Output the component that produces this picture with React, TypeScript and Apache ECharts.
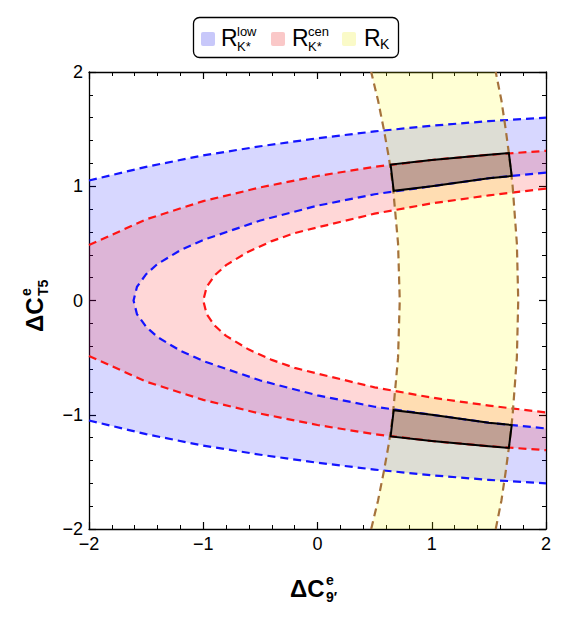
import React, { useEffect, useRef } from 'react';
import * as echarts from 'echarts';

// ---- Data ----
const seriesNames = ['R_K*^low', 'R_K*^cen', 'R_K'];
const xTicks = [-2, -1, 0, 1, 2];
const yTicks = [-2, -1, 0, 1, 2];

// R_K*^low (blue) band, upper half boundaries (lower half is the mirror image)
const blueOuterX = [-2, -1.5, -1, -0.5, 0, 0.5, 1, 1.5, 2];
const blueOuterY = [1.05, 1.17, 1.27, 1.35, 1.42, 1.48, 1.53, 1.57, 1.6];
const blueInnerX = [-1.61, -1.58, -1.5, -1.4, -1.2, -1, -0.5, 0, 0.5, 1, 1.5, 2];
const blueInnerY = [0, 0.12, 0.23, 0.32, 0.44, 0.53, 0.7, 0.83, 0.93, 1.0, 1.07, 1.12];

// R_K*^cen (red) band
const redOuterX = [-2, -1.5, -1, -0.5, 0, 0.5, 1, 1.5, 2];
const redOuterY = [0.485, 0.71, 0.87, 0.99, 1.09, 1.17, 1.23, 1.275, 1.31];
const redInnerX = [-1, -0.97, -0.9, -0.8, -0.6, -0.4, -0.2, 0, 0.5, 1, 1.5, 2];
const redInnerY = [0, 0.12, 0.22, 0.31, 0.43, 0.52, 0.59, 0.64, 0.76, 0.85, 0.92, 0.98];

// R_K (yellow) band: x of boundaries as a function of y
const yellowY = [-2, -1.75, -1.5, -1.25, -1, -0.5, 0, 0.5, 1, 1.25, 1.5, 1.75, 2];
const yellowLeftX = [0.47, 0.53, 0.58, 0.625, 0.66, 0.705, 0.72, 0.705, 0.66, 0.625, 0.58, 0.53, 0.47];
const yellowRightX = [1.56, 1.61, 1.647, 1.68, 1.708, 1.745, 1.757, 1.745, 1.708, 1.68, 1.647, 1.61, 1.56];

// Overlap regions (outlined in black)
const upperBox: number[][] = [
  [0.667, 0.96], [0.64, 1.19], [1.0, 1.23], [1.5, 1.275], [1.675, 1.29],
  [1.7, 1.09], [1.5, 1.07], [1.0, 1.0],
];
const lowerBox: number[][] = [
  [0.667, -0.96], [0.64, -1.19], [1.0, -1.23], [1.5, -1.275], [1.675, -1.29],
  [1.7, -1.09], [1.5, -1.07], [1.0, -1.0],
];

const FONT = '"Liberation Sans", Arial, Helvetica, sans-serif';

const zip = (xs: number[], ys: number[]) => xs.map((x, i) => [x, ys[i]]);
const neg = (pts: number[][]) => pts.map(([x, y]) => [x, -y]);

function bandPolygon(outerX: number[], outerY: number[], innerX: number[], innerY: number[]) {
  const outerUp = zip(outerX, outerY);
  const innerUp = zip(innerX, innerY);
  const innerLow = neg(innerUp);
  const outerLow = neg(outerUp);
  return [
    ...outerUp,
    ...innerUp.slice().reverse(),
    ...innerLow.slice(1),
    ...outerLow.slice().reverse(),
  ];
}

function bandLines(outerX: number[], outerY: number[], innerX: number[], innerY: number[]) {
  const outerUp = zip(outerX, outerY);
  const innerUp = zip(innerX, innerY);
  return [
    outerUp,
    neg(outerUp),
    [...innerUp.slice().reverse(), ...neg(innerUp).slice(1)],
  ];
}

const bluePoly = bandPolygon(blueOuterX, blueOuterY, blueInnerX, blueInnerY);
const redPoly = bandPolygon(redOuterX, redOuterY, redInnerX, redInnerY);
const yellowLeft = zip(yellowLeftX, yellowY);
const yellowRight = zip(yellowRightX, yellowY);
const yellowPoly = [...yellowLeft, ...yellowRight.slice().reverse()];

const BLUE_FILL = 'rgba(0,0,255,0.157)';
const RED_FILL = 'rgba(255,0,0,0.157)';
const YEL_FILL = 'rgba(255,255,0,0.17)';
const DASH = [8, 5];

function fillSeries(name: string, poly: number[][], fill: string, legendColor: string) {
  return {
    type: 'custom',
    name,
    coordinateSystem: 'cartesian2d',
    xAxisIndex: 0,
    yAxisIndex: 0,
    silent: true,
    z: 2,
    itemStyle: { color: legendColor },
    data: [[0, 0]],
    renderItem: (_p: any, api: any) => ({
      type: 'polygon',
      shape: { points: poly.map((p) => api.coord(p)) },
      style: { fill, stroke: 'none' },
    }),
  };
}

function lineSeries(name: string, lines: number[][][], stroke: string) {
  return {
    type: 'custom',
    name,
    coordinateSystem: 'cartesian2d',
    xAxisIndex: 0,
    yAxisIndex: 0,
    silent: true,
    z: 3,
    data: [[0, 0]],
    renderItem: (_p: any, api: any) => ({
      type: 'group',
      children: lines.map((l) => ({
        type: 'polyline',
        shape: { points: l.map((p) => api.coord(p)) },
        style: { stroke, lineWidth: 2.2, lineDash: DASH, fill: null },
      })),
    }),
  };
}

function boxSeries(name: string, boxes: number[][][]) {
  return {
    type: 'custom',
    name,
    coordinateSystem: 'cartesian2d',
    xAxisIndex: 0,
    yAxisIndex: 0,
    silent: true,
    z: 4,
    data: [[0, 0]],
    renderItem: (_p: any, api: any) => ({
      type: 'group',
      children: boxes.map((b) => ({
        type: 'polygon',
        shape: { points: b.map((p) => api.coord(p)) },
        style: { fill: 'rgba(40,10,10,0.18)', stroke: '#000', lineWidth: 2, lineJoin: 'miter' },
      })),
    }),
  };
}

const fmt = (v: number) => String(v).replace('-', '\u2212');

function axisCommon(showLabel: boolean) {
  return {
    min: -2,
    max: 2,
    interval: 1,
    axisLine: { show: true, onZero: false, lineStyle: { color: '#000', width: 1.3 } },
    axisTick: { show: true, inside: true, length: 7, lineStyle: { color: '#000', width: 1.2 } },
    minorTick: { show: true, splitNumber: 5, length: 4, lineStyle: { color: '#000', width: 1 } },
    splitLine: { show: false },
    minorSplitLine: { show: false },
    axisLabel: {
      show: showLabel,
      color: '#000',
      fontSize: 18,
      fontFamily: FONT,
      margin: 6,
      formatter: fmt,
    },
  };
}

function txt(text: string, x: number, y: number, size: number, bold = false, align = 'left') {
  return {
    type: 'text',
    x,
    y,
    style: {
      text,
      font: `${bold ? 'bold ' : ''}${size}px ${FONT}`,
      fill: '#000',
      textAlign: align,
      align,
      textVerticalAlign: 'middle',
      verticalAlign: 'middle',
    },
  };
}

export default function App() {
  const ref = useRef<HTMLDivElement>(null);
  useEffect(() => {
    if (!ref.current) return;
    const chart = echarts.init(ref.current, undefined, { renderer: 'svg' });
    const legendY = 38;
    chart.setOption({
      animation: false,
      backgroundColor: '#fff',
      grid: { left: 89, right: 25, top: 72, bottom: 88, containLabel: false },
      xAxis: [
        { type: 'value', position: 'bottom', ...axisCommon(true) },
        { type: 'value', position: 'top', ...axisCommon(false) },
      ],
      yAxis: [
        { type: 'value', position: 'left', ...axisCommon(true) },
        { type: 'value', position: 'right', ...axisCommon(false) },
      ],
      series: [
        fillSeries(seriesNames[0], bluePoly, BLUE_FILL, '#c8c8fa'),
        fillSeries(seriesNames[1], redPoly, RED_FILL, '#fac8c8'),
        fillSeries(seriesNames[2], yellowPoly, YEL_FILL, '#fafac8'),
        lineSeries('low-lines', bandLines(blueOuterX, blueOuterY, blueInnerX, blueInnerY), '#1414ff'),
        lineSeries('cen-lines', bandLines(redOuterX, redOuterY, redInnerX, redInnerY), '#ff1414'),
        lineSeries('k-lines', [yellowLeft, yellowRight], '#a6733c'),
        boxSeries('overlap', [upperBox, lowerBox]),
      ],
      graphic: [
        // legend frame
        {
          type: 'rect',
          shape: { x: 193.5, y: 17.5, width: 205, height: 40, r: 6 },
          style: { fill: '#fff', stroke: '#000', lineWidth: 1.3 },
        },
        { type: 'rect', shape: { x: 201, y: 32, width: 14, height: 14, r: 2 }, style: { fill: '#c8c8fa' } },
        { type: 'rect', shape: { x: 271, y: 32, width: 14, height: 14, r: 2 }, style: { fill: '#fac8c8' } },
        { type: 'rect', shape: { x: 342, y: 32, width: 14, height: 14, r: 2 }, style: { fill: '#fafac8' } },
        txt('R', 221, legendY, 23),
        txt('low', 237, 31, 13),
        txt('K*', 237, 46, 13),
        txt('R', 292, legendY, 23),
        txt('cen', 308, 31, 13),
        txt('K*', 308, 46, 13),
        txt('R', 364, legendY, 23),
        txt('K', 380, 44, 14),
        // x axis title
        {
          type: 'group',
          x: 290,
          y: 588,
          children: [
            txt('\u0394C', 0, 0, 24, true),
            txt('e', 36, -8, 14, true),
            txt('9\u2032', 36, 9, 14, true),
          ],
        },
        // y axis title (rotated)
        {
          type: 'group',
          x: 34,
          y: 332,
          rotation: Math.PI / 2,
          children: [
            txt('\u0394C', 0, 0, 24, true),
            txt('e', 36, -8, 14, true),
            txt('T5', 36, 9, 14, true),
          ],
        },
      ],
    });
    return () => chart.dispose();
  }, []);
  return (
    <div
      ref={ref}
      style={{ position: 'fixed', left: 0, top: 0, width: 571, height: 617, background: '#fff' }}
    />
  );
}
